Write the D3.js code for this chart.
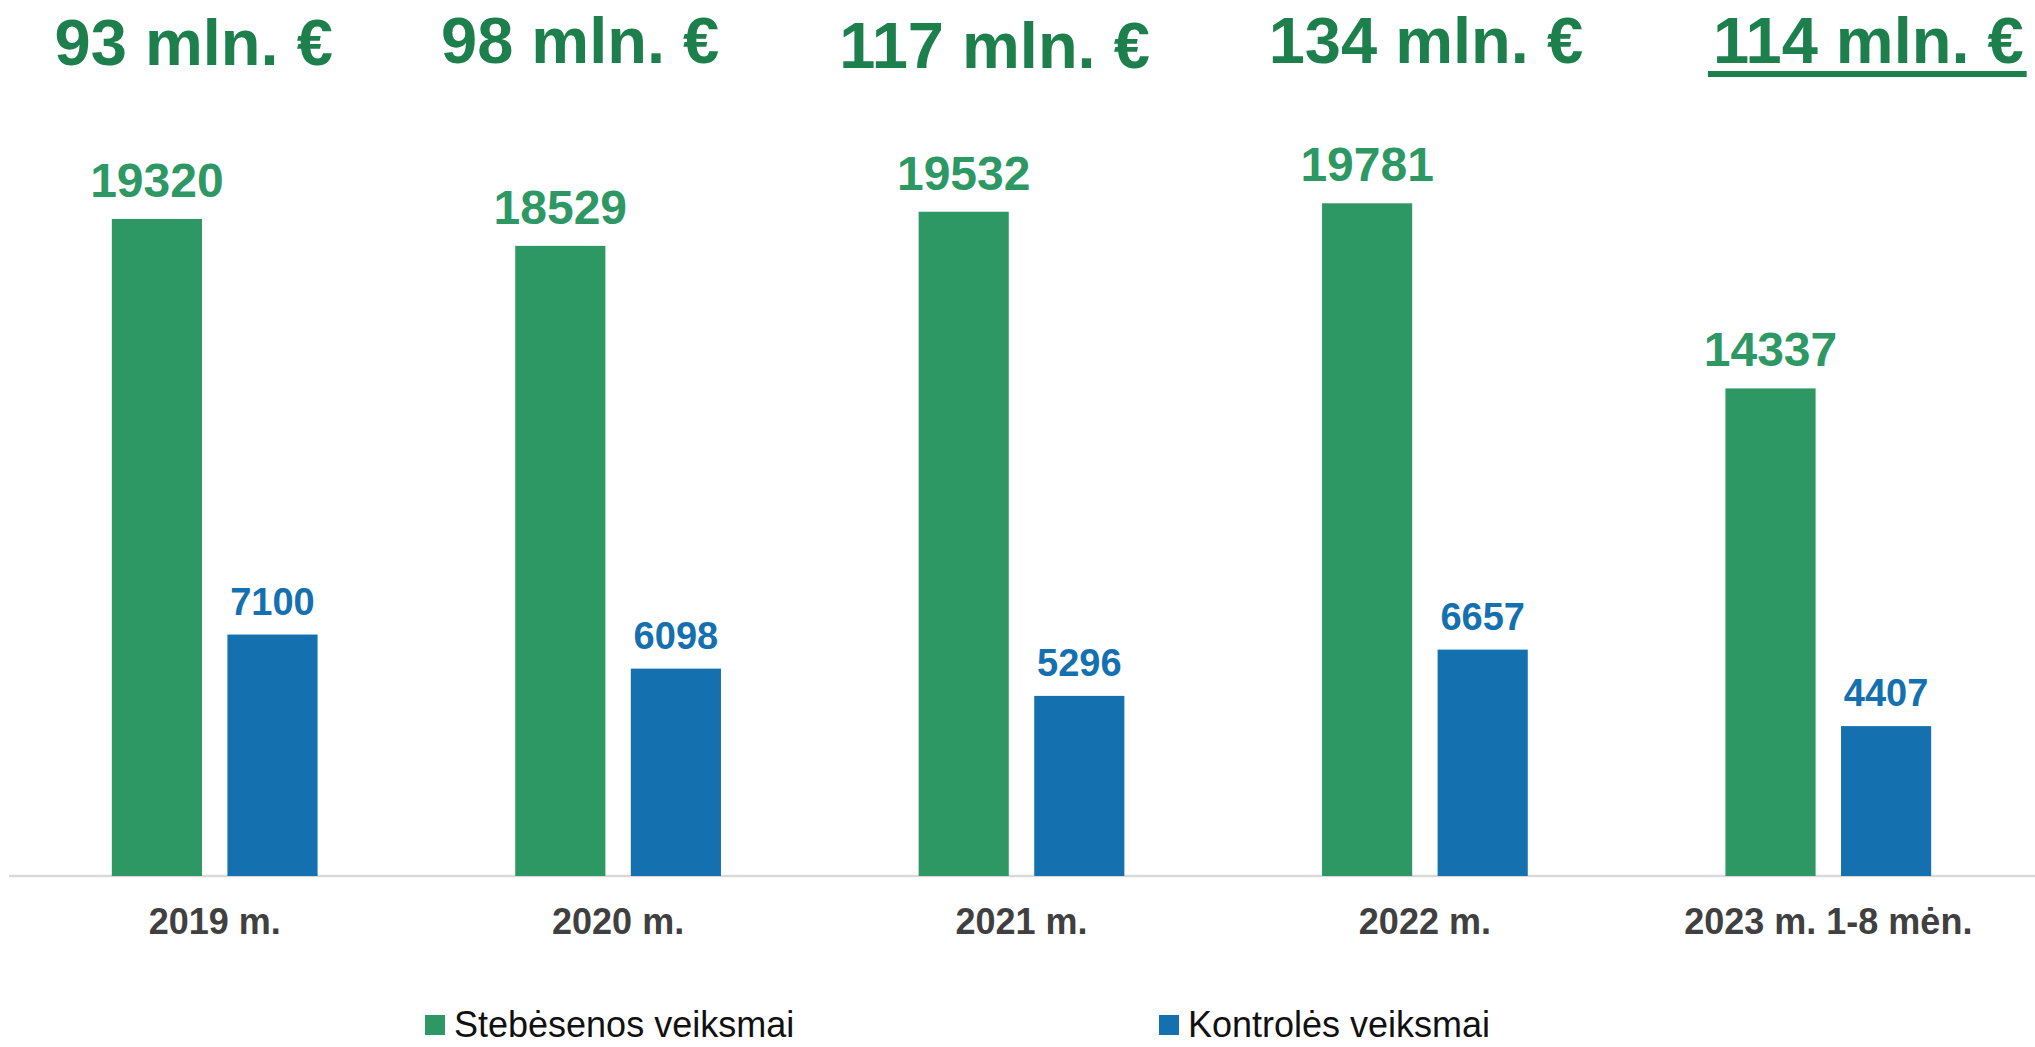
<!DOCTYPE html>
<html>
<head>
<meta charset="utf-8">
<script src="https://cdn.jsdelivr.net/npm/d3@7"></script>
<style>
  body { margin: 0; background: #fff; }
  text { font-family: "Liberation Sans", Arial, sans-serif; }
</style>
</head>
<body>
<svg id="chart" width="2035" height="1047"></svg>
<script>
var years = ["2019 m.", "2020 m.", "2021 m.", "2022 m.", "2023 m. 1-8 mėn."];
var series = ["Stebėsenos veiksmai", "Kontrolės veiksmai"];
var stebesena = [19320, 18529, 19532, 19781, 14337];
var kontrole = [7100, 6098, 5296, 6657, 4407];
var sumos = ["93 mln. €", "98 mln. €", "117 mln. €", "134 mln. €", "114 mln. €"];

// the money titles are not quite centred over their groups in the original
var titleNudge = [[-21, 0], [-38, -2], [-27, 3], [1, -2], [40, -2]];

var colors = ["#2e9865", "#1570b0"];
var labelSize = [48, 38],
    labelGap = [22, 20];

var svg = d3.select("#chart"),
    width = +svg.attr("width"),
    height = +svg.attr("height"),
    base = 876;

var rows = years.map(function(y, i) {
    return { year: y, values: [stebesena[i], kontrole[i]] };
});

var x0 = d3.scaleBand()
    .domain(years)
    .range([13, 2030])
    .paddingInner(0.49)
    .paddingOuter(0.245);

var x1 = d3.scaleBand()
    .domain(d3.range(series.length))
    .range([0, x0.bandwidth()])
    .paddingInner(0.22);

var y = d3.scaleLinear()
    .domain([0, 25000])
    .range([base, 25.8]);

// baseline + category labels
var axis = svg.append("g")
    .attr("transform", "translate(0," + base + ")")
    .call(d3.axisBottom(x0).tickSize(0).tickPadding(32));
axis.select(".domain")
    .attr("d", "M9,0H" + width)
    .attr("stroke", "#d9d9d9")
    .attr("stroke-width", 2.5);
axis.selectAll("text")
    .attr("font-family", "'Liberation Sans', Arial, sans-serif")
    .attr("font-size", 36)
    .attr("font-weight", "bold")
    .attr("fill", "#404040");

var groups = svg.append("g").selectAll("g")
    .data(rows)
    .join("g")
    .attr("transform", function(d) { return "translate(" + x0(d.year) + ",0)"; });

groups.selectAll("rect")
    .data(function(d) { return d.values; })
    .join("rect")
    .attr("x", function(d, i) { return x1(i); })
    .attr("y", function(d) { return y(d); })
    .attr("width", x1.bandwidth())
    .attr("height", function(d) { return base - y(d); })
    .attr("fill", function(d, i) { return colors[i]; });

groups.selectAll("text.val")
    .data(function(d) { return d.values; })
    .join("text")
    .attr("class", "val")
    .attr("x", function(d, i) { return x1(i) + x1.bandwidth() / 2; })
    .attr("y", function(d, i) { return y(d) - labelGap[i]; })
    .attr("text-anchor", "middle")
    .attr("font-size", function(d, i) { return labelSize[i]; })
    .attr("font-weight", "bold")
    .attr("fill", function(d, i) { return colors[i]; })
    .text(function(d) { return d; });

// money totals across the top
var titles = svg.append("g").selectAll("text")
    .data(sumos)
    .join("text")
    .attr("x", function(d, i) { return x0(years[i]) + x0.bandwidth() / 2 + titleNudge[i][0]; })
    .attr("y", function(d, i) { return 65 + titleNudge[i][1]; })
    .attr("text-anchor", "middle")
    .attr("font-size", 65)
    .attr("font-weight", "bold")
    .attr("fill", "#1c7f4c")
    .text(function(d) { return d; });

// last one is underlined
var last = titles.filter(function(d, i) { return i === sumos.length - 1; });
var bb = last.node().getBBox();
svg.append("rect")
    .attr("x", bb.x - 5)
    .attr("y", +last.attr("y") + 8)
    .attr("width", bb.width + 8)
    .attr("height", 6)
    .attr("fill", "#1c7f4c");

// legend (sits right at the bottom edge, nudged up so it is not clipped)
var lx = d3.scalePoint().domain(series).range([425, 1159]);
var leg = svg.append("g").selectAll("g")
    .data(series)
    .join("g")
    .attr("transform", function(d) { return "translate(" + lx(d) + ",1015)"; });
leg.append("rect")
    .attr("width", 20)
    .attr("height", 20)
    .attr("fill", function(d, i) { return colors[i]; });
leg.append("text")
    .attr("x", 29)
    .attr("y", 22)
    .attr("font-size", 36)
    .attr("fill", "#111")
    .text(function(d) { return d; });
</script>
</body>
</html>
